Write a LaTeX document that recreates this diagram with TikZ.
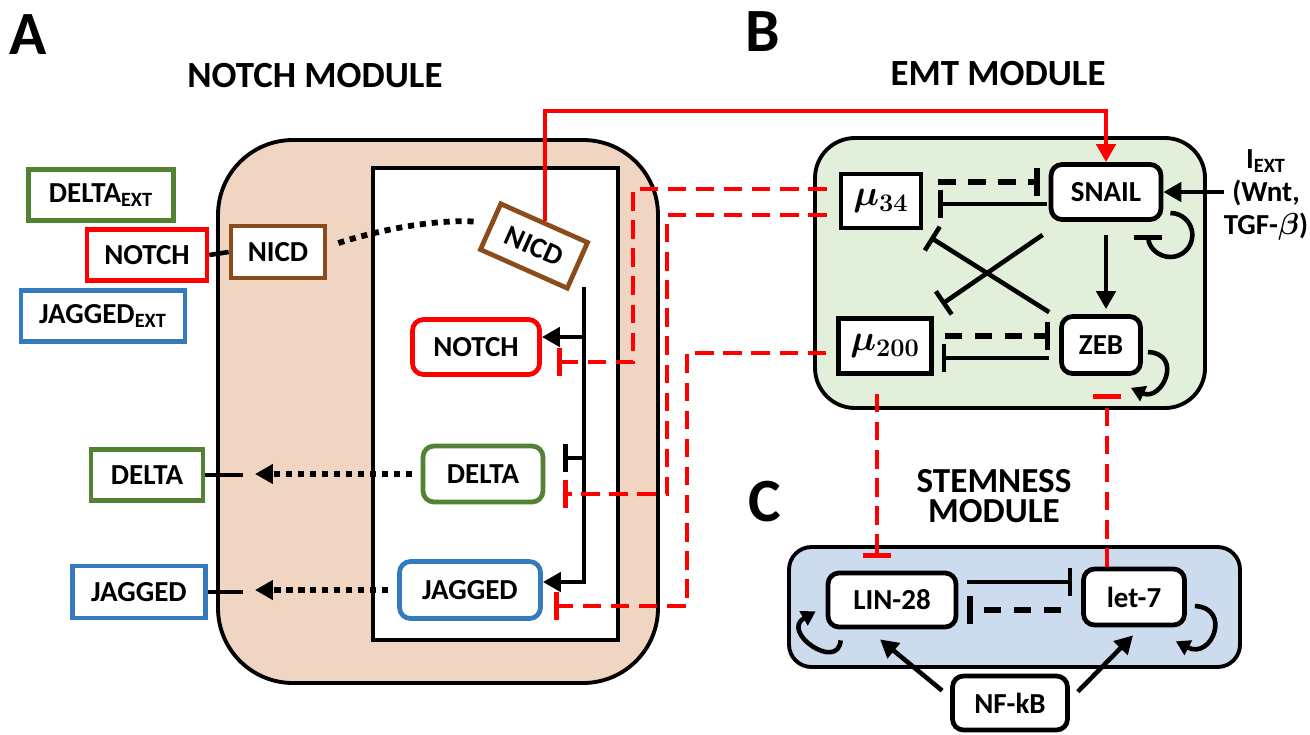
\documentclass[tikz,border=0pt]{standalone}
\usepackage{amsmath}
\usepackage{fontspec}
\setmainfont{Carlito}
\usetikzlibrary{arrows.meta}

\definecolor{cellNotch}{RGB}{240,214,194}
\definecolor{cellEmt}{RGB}{226,239,218}
\definecolor{cellStem}{RGB}{205,219,238}
\definecolor{boxNotch}{RGB}{255,0,0}
\definecolor{boxDelta}{RGB}{84,130,53}
\definecolor{boxJagged}{RGB}{52,122,190}
\definecolor{boxNicd}{RGB}{139,76,28}
\definecolor{linkRed}{RGB}{255,0,0}

\begin{document}
\begin{tikzpicture}[x=0.02cm, y=-0.02cm, font=\bfseries,
  gene/.style={draw, line width=2.7pt, fill=white, inner sep=2pt,
    font=\fontsize{16.5}{19}\selectfont\bfseries},
  rgene/.style={gene, rounded corners=0.22cm},
  mir/.style={gene, font=\fontsize{22}{24}\selectfont},
  panel/.style={font=\fontsize{35}{35}\selectfont\bfseries},
  title/.style={font=\fontsize{21}{17.5}\selectfont\bfseries, align=center},
  link/.style={line width=2.6pt},
  act/.style={link, -{Triangle[length=3.6mm, width=3.8mm]}},
  selfact/.style={link, -{Triangle[length=2.8mm, width=3.2mm]}},
  inh/.style={link, -{Bar[width=5.6mm]}},
  dinh/.style={inh, line width=3.2pt, dash pattern=on 10pt off 7pt},
  rinh/.style={inh, linkRed, line width=2.8pt, dash pattern=on 10.5pt off 5.5pt},
  dots/.style={line width=3.3pt, dash pattern=on 3.5pt off 3.3pt}]
\useasboundingbox (0,0) rectangle (1310,734);

%% Panel A: Notch module
\node[panel] (labA) at (28,35) {A};
\node[title] (titleA) at (315,76) {NOTCH MODULE};
\draw[line width=2.2pt, fill=cellNotch, rounded corners=1.5cm] (218,140) rectangle (658,683);
\draw[line width=2.6pt, fill=white] (373,168) rectangle (618,640);

\node[gene, draw=boxDelta, minimum width=2.9cm, minimum height=1.02cm] (dext) at (101,195) {DELTA\textsubscript{EXT}};
\node[gene, draw=boxNotch, minimum width=2.4cm, minimum height=1.02cm] (next) at (147,255) {NOTCH};
\node[gene, draw=boxJagged, minimum width=3.28cm, minimum height=1.02cm] (jext) at (103,316) {JAGGED\textsubscript{EXT}};
\node[gene, draw=boxNicd, minimum width=1.88cm, minimum height=1.04cm] (nicd) at (278,252) {NICD};
\node[gene, draw=boxDelta, minimum width=2.24cm, minimum height=1.02cm] (dout) at (147,475) {DELTA};
\node[gene, draw=boxJagged, minimum width=2.66cm, minimum height=1.04cm] (jout) at (139,592) {JAGGED};

\node[gene, draw=boxNicd, rotate=-24, minimum width=1.9cm, minimum height=1cm] (nicdin) at (534,246) {NICD};
\node[rgene, draw=boxNotch, minimum width=2.54cm, minimum height=1.1cm] (notchin) at (476,347) {NOTCH};
\node[rgene, draw=boxDelta, minimum width=2.4cm, minimum height=1.12cm] (deltain) at (483,474) {DELTA};
\node[rgene, draw=boxJagged, minimum width=2.82cm, minimum height=1.14cm] (jaggedin) at (470,590) {JAGGED};

\draw[link] (next.east) -- (nicd.west);
\draw[dots] ([shift={(11,-9)}]nicd.east) .. controls (385,228) and (440,219) .. ([shift={(-12,-4)}]nicdin.west);

% transcription targets of NICD
\coordinate (busTop) at (584,287);
\coordinate (busNotch) at (584,337);
\coordinate (busDelta) at (584,458);
\coordinate (busJag) at (584,582);
\draw[act] (busTop) |- (jaggedin.east |- busJag);
\draw[act] (busNotch) -- (notchin.east |- busNotch);
\draw[inh, shorten >=0.36cm] (busDelta) -- (deltain.east |- busDelta);

% ligands sent to the membrane
\coordinate (membD) at (243,474);
\coordinate (membJ) at (243,592);
\draw[link] (dout.east) -- (dout.east -| membD);
\draw[link] (jout.east) -- (jout.east -| membJ);
\draw[dots, -{Triangle[length=3.6mm, width=3.8mm]}, shorten <=0.18cm, shorten >=0.24cm] (deltain.west) -- (deltain.west -| membD);
\draw[dots, -{Triangle[length=3.6mm, width=3.8mm]}, shorten <=0.18cm, shorten >=0.24cm] (jaggedin.west) -- (jaggedin.west -| membJ);

%% Panel B: EMT module
\node[panel] (labB) at (763,32) {B};
\node[title] (titleB) at (998,74) {EMT MODULE};
\draw[line width=2.2pt, fill=cellEmt, rounded corners=0.8cm] (815,138) rectangle (1205,408);

\node[mir, minimum width=1.6cm, minimum height=1.08cm] (mu34) at (881,201) {$\boldsymbol{\mu_{34}}$};
\node[rgene, minimum width=2.2cm, minimum height=1.1cm] (snail) at (1106,192) {SNAIL};
\node[mir, minimum width=1.86cm, minimum height=1.1cm] (mu200) at (885,346) {$\boldsymbol{\mu_{200}}$};
\node[rgene, minimum width=1.58cm, minimum height=1.14cm] (zeb) at (1101,345) {ZEB};
\node[align=center, inner sep=0pt, font=\fontsize{16.5}{19}\selectfont\bfseries] (iext) at (1266,195) {I\textsubscript{EXT}\\(Wnt,\\TGF-$\boldsymbol{\beta}$)};

\draw[inh, shorten >=0.3cm] ([shift={(-2,12)}]snail.west) -- ([shift={(0,12)}]snail.west -| mu34.east);
\draw[dinh, shorten >=0.18cm] ([shift={(15,-10)}]mu34.east |- snail.west) -- ([shift={(0,-10)}]snail.west);
\draw[inh, shorten >=0.16cm] ([shift={(-10,13)}]zeb.west) -- ([shift={(0,13)}]zeb.west -| mu200.east);
\draw[dinh, shorten >=0.18cm] ([shift={(11,-9)}]mu200.east |- zeb.west) -- ([shift={(0,-9)}]zeb.west);
\draw[act, shorten <=0.26cm, shorten >=0.1cm] (snail.south) -- (snail.south |- zeb.north);
\draw[inh] ([shift={(-6,13)}]snail.south west) -- ([shift={(8,-12)}]mu200.north east);
\draw[inh] ([shift={(-10,-2)}]zeb.north west) -- ([shift={(7,7)}]mu34.south east);
\draw[inh] ([shift={(7,21)}]snail.east) arc[start angle=-90, end angle=180, radius=22];
\draw[selfact] ([shift={(5,7)}]zeb.east) .. controls (1184,354) and (1162,402) .. ([shift={(-12,12)}]zeb.south east);
\draw[act] (iext.west |- snail.east) -- (snail.east);

%% Panel C: stemness module
\node[panel] (labC) at (765,502) {C};
\node[title, font=\fontsize{20}{17.5}\selectfont\bfseries] (titleC) at (994,496) {STEMNESS\\MODULE};
\draw[line width=2.2pt, fill=cellStem, rounded corners=0.45cm] (789,547) rectangle (1240,667);

\node[rgene, minimum width=2.56cm, minimum height=1.08cm] (lin28) at (892,600) {LIN-28};
\node[rgene, minimum width=2.02cm, minimum height=1.12cm] (let7) at (1134,597) {let-7};
\node[rgene, minimum width=2.3cm, minimum height=1.08cm] (nfkb) at (1010,703) {NF-kB};

\draw[inh, shorten >=0.18cm] ([shift={(9,-18)}]lin28.east) -- ([shift={(0,-18)}]lin28.east -| let7.west);
\draw[dinh, shorten >=0.18cm] ([shift={(-20,10)}]let7.west |- lin28.east) -- ([shift={(0,10)}]lin28.east);
\draw[act] ([shift={(-8,17)}]nfkb.north west) -- ([shift={(-12,10)}]lin28.south);
\draw[act] ([shift={(8,18)}]nfkb.north east) -- ([shift={(-1,8)}]let7.south);
\draw[selfact] ([shift={(15,11)}]lin28.south west) .. controls (838,672) and (780,632) .. ([shift={(-10,-18)}]lin28.south west);
\draw[selfact] ([shift={(8,9)}]let7.east) .. controls (1232,608) and (1212,660) .. ([shift={(-11,14)}]let7.south east);

%% links between the modules
\draw[act, linkRed] (nicdin.north) -- ++(0,-110) -| (snail.north);
\coordinate (bendNotch) at (633,362);
\coordinate (bendDelta) at (667,494);
\coordinate (bendJag) at (687,606);
\draw[rinh, shorten >=0.3cm] ([shift={(-12,-12)}]mu34.west) -| (bendNotch) -- (notchin.east |- bendNotch);
\draw[rinh, shorten >=0.36cm] ([shift={(-12,14)}]mu34.west) -| (bendDelta) -- (deltain.east |- bendDelta);
\draw[rinh, shorten >=0.22cm] ([shift={(-10,7)}]mu200.west) -| (bendJag) -- (jaggedin.east |- bendJag);
\draw[rinh] ([shift={(-8,18)}]mu200.south) -- ([shift={(-15,-13)}]lin28.north);
\draw[rinh] ([shift={(-27,0)}]let7.north) -- ([shift={(6,18)}]zeb.south);
\end{tikzpicture}
\end{document}
